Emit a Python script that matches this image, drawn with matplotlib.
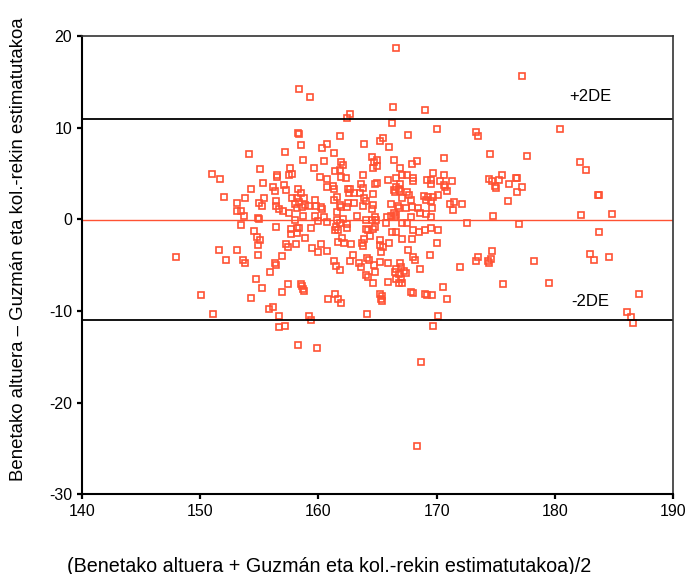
import numpy as np
import matplotlib
matplotlib.use('Agg')
import matplotlib.pyplot as plt

plt.rcParams['font.family'] = ['Liberation Sans', 'DejaVu Sans']
plt.rcParams['axes.unicode_minus'] = False

# Bland-Altman data: mean of the two heights (x) and their difference (y)
mean_vals = [
    158.4, 159.3, 158.3, 158.4, 158.5, 154.1, 157.2, 158.7, 159.6, 160.5, 160.3, 160.7,
    155.1, 151.0, 151.7, 155.3, 156.5, 156.5, 157.6, 157.5, 157.8, 156.2, 156.3, 157.1,
    157.3, 154.3, 158.3, 158.5, 160.1, 160.7, 160.7, 152.0, 153.8, 153.1, 155.4, 155.0,
    155.2, 156.4, 156.4, 156.7, 157.0, 157.8, 158.2, 158.8, 158.0, 158.4, 158.9, 158.2,
    158.6, 159.2, 159.7, 159.8, 160.2, 160.3, 153.1, 153.5, 153.7, 157.5, 158.7, 159.7,
    160.5, 154.9, 155.0, 158.0, 153.5, 156.4, 160.0, 160.7,
    166.3, 169.0, 162.4, 162.7, 166.2, 161.8, 163.9, 165.2, 165.5, 166.0, 167.6, 170.0,
    173.3, 173.5, 161.3, 174.5, 164.5, 165.0, 164.7, 165.0, 164.6, 166.4, 166.9, 167.9,
    168.3, 170.6, 161.9, 162.1, 161.8, 161.4, 161.9, 162.3, 163.8, 169.7, 170.6, 166.6,
    167.1, 167.5, 168.0, 168.0, 165.9, 165.0, 164.8, 169.2, 169.5, 169.5, 170.3, 171.3,
    174.4, 174.7, 174.9, 175.0, 170.6, 170.7, 170.9, 163.6, 163.8, 161.2, 161.3, 162.5,
    162.7, 162.6, 163.0, 163.5, 166.6, 166.8, 166.9, 166.4, 166.9, 166.5, 164.6, 167.5,
    170.1, 169.3, 168.9, 169.1, 169.5, 169.7, 167.7, 167.8, 167.1, 163.9, 164.0, 163.8,
    161.6, 161.3, 161.8, 161.9, 161.6, 162.5, 163.0, 162.4, 164.6, 164.5, 166.1, 166.7,
    166.8, 167.4, 167.9, 168.4, 168.6, 169.6, 171.1, 171.5, 172.1, 171.4, 163.3, 166.4,
    166.6, 166.1, 166.5, 164.8, 164.9, 167.8, 169.1, 169.5, 174.8, 162.1, 161.6, 162.4,
    161.8, 164.0, 164.5, 165.8, 167.1, 167.5, 172.6, 165.7,
    154.6, 154.8, 155.1, 154.9, 157.7, 158.2, 158.4, 157.7, 158.2, 159.4, 158.9, 157.3,
    157.4, 158.1, 159.5, 160.2, 160.0, 160.7, 148.0, 151.6, 153.1, 152.2, 153.6, 153.8,
    154.9, 156.9, 156.3, 156.4, 155.9, 154.7, 155.2, 157.4, 158.5, 158.6, 158.7, 158.8,
    156.9, 150.1, 154.3, 160.8, 155.8, 156.2, 151.1, 156.7, 159.2, 159.4, 156.7, 157.2,
    158.3, 159.9,
    161.5, 161.4, 161.7, 162.4, 164.0, 164.2, 164.6, 164.8, 166.2, 166.6, 168.0, 168.5,
    169.0, 169.5, 170.1, 167.1, 167.9, 166.0, 170.0, 162.0, 161.7, 162.2, 162.8, 163.9,
    163.7, 163.8, 165.2, 165.2, 165.5, 165.3, 164.4, 167.6, 168.0, 168.2, 169.4, 174.7,
    173.5, 173.3, 174.3, 174.4, 174.6, 172.0, 161.3, 161.5, 161.8, 162.9, 162.7, 163.4,
    163.6, 164.1, 164.3, 164.7, 164.8, 165.2, 165.9, 166.9, 167.0, 166.6, 167.2, 166.5,
    167.4, 166.8, 167.0, 166.8, 167.1, 166.6, 168.6, 164.0, 164.2, 165.9, 164.6, 167.8,
    168.0, 170.5, 165.2, 165.4, 165.3, 165.4, 169.0, 169.2, 169.6, 170.9, 161.4, 161.7,
    161.9, 164.1, 170.1, 169.7, 168.7,
    177.2, 180.4, 177.6, 182.1, 182.6, 175.5, 175.3, 176.7, 176.8, 176.1, 177.2, 176.8,
    176.0, 183.6, 183.7, 182.2, 184.8, 177.0, 183.7, 183.0, 183.3, 184.6, 178.2, 175.6,
    179.5, 187.1, 186.1, 186.4, 186.6,
    166.6, 168.3,
]
diff_vals = [
    14.2, 13.3, 9.4, 9.3, 8.1, 7.1, 7.3, 6.5, 5.6, 6.4, 7.8, 8.2,
    5.5, 4.9, 4.4, 4.0, 4.8, 4.6, 5.6, 4.8, 4.9, 3.5, 3.1, 3.7,
    3.2, 3.3, 3.3, 2.9, 4.6, 4.4, 3.5, 2.4, 2.3, 1.8, 2.3, 1.8,
    1.4, 2.0, 1.5, 1.1, 0.9, 2.3, 2.3, 2.3, 1.7, 1.9, 1.6, 1.2,
    1.3, 1.4, 2.1, 1.5, 1.3, 1.1, 0.9, 0.9, 0.4, 0.7, 0.4, 0.4,
    0.3, 0.1, 0.0, -0.1, -0.6, -0.8, -0.2, -0.3,
    12.3, 11.9, 11.1, 11.5, 10.5, 9.1, 8.2, 8.5, 8.9, 7.9, 9.2, 9.8,
    9.5, 9.1, 7.2, 7.1, 6.8, 6.5, 6.2, 5.8, 5.6, 6.5, 5.6, 6.0,
    6.4, 6.7, 6.3, 5.9, 5.4, 5.3, 4.6, 4.5, 4.8, 5.1, 4.8, 4.5,
    4.8, 4.8, 4.5, 4.2, 4.3, 4.0, 3.8, 4.3, 4.3, 3.8, 4.2, 4.2,
    4.4, 4.2, 3.6, 3.4, 3.7, 3.5, 3.1, 3.8, 3.4, 3.6, 3.3, 3.3,
    3.3, 2.9, 2.9, 2.9, 3.5, 3.3, 3.8, 3.2, 3.1, 3.0, 2.8, 3.0,
    2.6, 2.4, 2.5, 2.1, 2.0, 2.4, 2.6, 2.1, 2.3, 2.3, 2.0, 1.4,
    2.4, 2.1, 1.6, 1.3, 0.8, 1.8, 1.8, 1.3, 1.6, 1.1, 1.7, 1.5,
    1.2, 1.2, 1.3, 1.2, 0.7, 1.2, 1.7, 1.9, 1.7, 1.0, 0.4, 0.7,
    0.5, 0.4, 0.3, 0.3, -0.1, 0.3, 0.6, 0.3, 0.4, 0.0, -0.1, -0.5,
    -0.4, -0.1, -0.1, 0.2, -0.4, -0.4, -0.4, -0.4,
    -1.3, -1.9, -2.3, -2.8, -1.1, -1.0, -1.0, -1.6, -1.5, -1.0, -2.0, -2.7,
    -3.0, -2.7, -3.1, -2.7, -3.6, -3.5, -4.1, -3.4, -3.4, -4.4, -4.4, -4.8,
    -3.9, -4.0, -4.8, -5.0, -5.8, -6.5, -7.5, -7.1, -7.1, -7.3, -7.6, -7.8,
    -7.9, -8.3, -8.6, -8.7, -9.8, -9.6, -10.3, -10.6, -10.6, -11.0, -11.7, -11.6,
    -13.7, -14.0,
    -0.8, -1.2, -1.2, -1.0, -1.1, -1.2, -1.1, -0.8, -1.4, -1.4, -1.2, -1.4,
    -1.2, -1.0, -1.2, -2.1, -2.1, -2.6, -2.6, -2.0, -2.5, -2.6, -2.7, -2.1,
    -2.6, -2.9, -2.3, -2.8, -3.0, -3.6, -1.8, -3.4, -4.1, -4.4, -3.9, -3.5,
    -4.1, -4.5, -4.5, -4.8, -4.3, -5.2, -4.6, -5.1, -5.5, -3.9, -4.5, -4.8,
    -5.2, -4.2, -4.4, -5.0, -5.7, -4.7, -4.8, -4.8, -5.2, -5.4, -5.6, -5.8,
    -5.9, -6.0, -6.5, -6.9, -6.9, -6.5, -5.4, -6.1, -6.3, -6.8, -6.9, -7.9,
    -8.0, -7.4, -8.1, -8.4, -8.7, -8.9, -8.1, -8.3, -8.3, -8.7, -8.2, -8.7,
    -9.1, -10.3, -10.5, -11.6, -15.6,
    15.6, 9.8, 6.9, 6.3, 5.4, 4.8, 4.3, 4.5, 4.5, 3.9, 3.5, 3.0,
    2.0, 2.7, 2.7, 0.5, 0.6, -0.5, -1.4, -3.8, -4.4, -4.1, -4.5, -7.1,
    -6.9, -8.2, -10.1, -10.7, -11.3,
    18.7, -24.7,
]

mean_diff = -0.1
upper_loa = 10.9
lower_loa = -11.0

x_ticks = [140, 150, 160, 170, 180, 190]
y_ticks = [-30, -20, -10, 0, 10, 20]

red = '#ff5233'

fig = plt.figure(figsize=(6.91, 5.74), dpi=100)
ax = fig.add_axes([0.1182, 0.1389, 0.8562, 0.7984])

ax.plot(mean_vals, diff_vals, linestyle='none', marker='s', markersize=4.6,
        markerfacecolor='none', markeredgecolor=red, markeredgewidth=1.2)

ax.axhline(mean_diff, color=red, lw=1.0)
ax.axhline(upper_loa, color='black', lw=1.3)
ax.axhline(lower_loa, color='black', lw=1.3)

ax.text(183.0, 13.4, '+2DE', fontsize=12, ha='center', va='center')
ax.text(183.0, -9.0, '-2DE', fontsize=12, ha='center', va='center')

ax.set_xlim(140, 190)
ax.set_ylim(-30, 20)
ax.set_xticks(x_ticks)
ax.set_yticks(y_ticks)
ax.tick_params(direction='out', length=3.6, width=1.6, labelsize=11.5)
ax.tick_params(axis='x', pad=3.3)
ax.tick_params(axis='y', pad=3.2)

for side in ['left', 'bottom']:
    ax.spines[side].set_linewidth(1.5)
for side in ['top', 'right']:
    ax.spines[side].set_linewidth(1.2)
    ax.spines[side].set_color('#333333')

fig.text(0.0265, 1 - 249 / 574, 'Benetako altuera – Guzmán eta kol.-rekin estimatutakoa',
         rotation=90, ha='center', va='center', fontsize=13.4)
fig.text(329.5 / 691, 1 - 566 / 574,
         '(Benetako altuera + Guzmán eta kol.-rekin estimatutakoa)/2',
         ha='center', va='center', fontsize=14.2)

fig.savefig('out.png', dpi=100)
